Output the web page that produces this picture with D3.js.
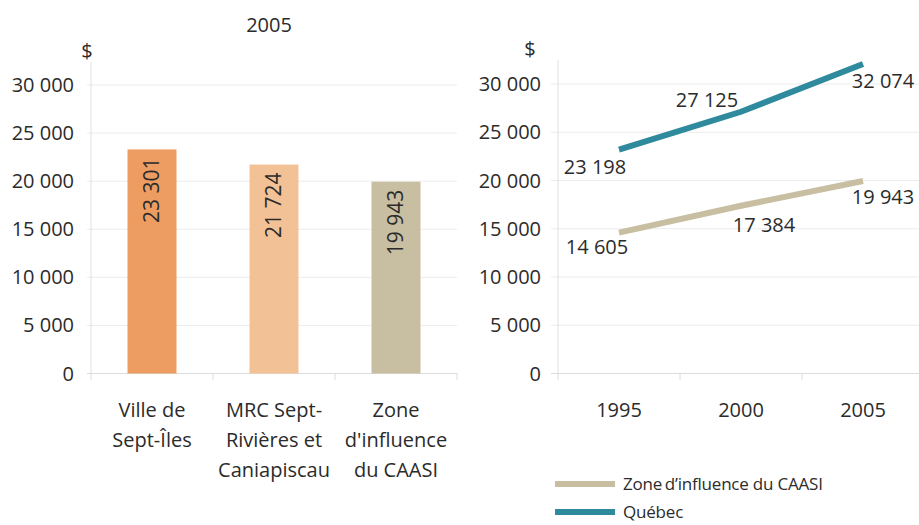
<!DOCTYPE html>
<html>
<head>
<meta charset="utf-8">
<script src="https://cdn.jsdelivr.net/npm/d3@7"></script>
<style>
  body { margin: 0; background: #fff; }
  svg text { font-family: "Open Sans", "Noto Sans", sans-serif; fill: #2b2b2b; }
</style>
</head>
<body>
<svg id="chart" width="919" height="525"></svg>
<script>
// data
const barCategories = [["Ville de", "Sept-Îles"], ["MRC Sept-", "Rivières et", "Caniapiscau"], ["Zone", "d'influence", "du CAASI"]];
const barValues = [23301, 21724, 19943];
const barColors = ["#ee9d62", "#f3c196", "#c8bea2"];

const years = ["1995", "2000", "2005"];
const zoneValues = [14605, 17384, 19943];
const quebecValues = [23198, 27125, 32074];
const seriesNames = ["Zone\u2009d\u2019influence du CAASI", "Québec"];
const seriesColors = ["#c8bea2", "#2e8a9c"];

const yTicks = [0, 5000, 10000, 15000, 20000, 25000, 30000];

const fmt = v => d3.format(",")(v).replace(/,/g, " ");

const svg = d3.select("#chart");

// ---- left: bars 2005 ----
const y1 = d3.scaleLinear().domain([0, 30000]).range([373.5, 85]);

const gl = svg.append("g");
gl.selectAll(".grid").data(yTicks.slice(1)).enter().append("line")
  .attr("x1", 87).attr("x2", 457)
  .attr("y1", d => y1(d)).attr("y2", d => y1(d))
  .attr("stroke", "#ececec").attr("stroke-width", 1);
gl.append("line").attr("x1", 91).attr("x2", 91).attr("y1", 62).attr("y2", 373.5)
  .attr("stroke", "#e0e0e0");
gl.append("line").attr("x1", 87).attr("x2", 457).attr("y1", 373.5).attr("y2", 373.5)
  .attr("stroke", "#dcdcdc");
[91, 213, 335, 457].forEach(x => {
  gl.append("line").attr("x1", x).attr("x2", x).attr("y1", 373.5).attr("y2", 380).attr("stroke", "#dcdcdc");
});
gl.selectAll(".ytick").data(yTicks).enter().append("text")
  .attr("x", 74).attr("y", d => y1(d)).attr("dy", "0.35em")
  .attr("text-anchor", "end").style("font-size", "20px").text(fmt);
gl.append("text").attr("x", 87).attr("y", 51).attr("dy", "0.35em")
  .attr("text-anchor", "middle").style("font-size", "20px").text("$");
gl.append("text").attr("x", 269).attr("y", 25).attr("dy", "0.35em")
  .attr("text-anchor", "middle").style("font-size", "20px").text("2005");

// bars at band centre so bar width stays ~49px
const bandW = 122, barW = 49;
const x1 = d3.scaleLinear().domain([0, 1]).range([91, 91 + bandW]);
gl.selectAll(".bar").data(barValues).enter().append("rect")
  .attr("x", (d, i) => x1(i) + (bandW - barW) / 2)
  .attr("width", barW)
  .attr("y", d => y1(d))
  .attr("height", d => y1(0) - y1(d))
  .attr("fill", (d, i) => barColors[i]);
gl.selectAll(".blabel").data(barValues).enter().append("text")
  .attr("transform", (d, i) => `translate(${x1(i) + bandW / 2 + 7},${y1(d) + 8}) rotate(-90)`)
  .attr("text-anchor", "end").style("font-size", "21px").text(fmt);
barCategories.forEach((lines, i) => {
  const t = gl.append("text").attr("text-anchor", "middle").style("font-size", "20px");
  lines.forEach((l, j) => {
    t.append("tspan").attr("x", x1(i) + bandW / 2).attr("y", 417 + j * 30).text(l);
  });
});

// ---- right: lines ----
const y2 = d3.scaleLinear().domain([0, 30000]).range([373.5, 84]);
const x2 = d3.scalePoint().domain(years).range([619, 863]);

const gr = svg.append("g");
gr.selectAll(".grid").data(yTicks.slice(1)).enter().append("line")
  .attr("x1", 551).attr("x2", 919)
  .attr("y1", d => y2(d)).attr("y2", d => y2(d))
  .attr("stroke", "#ececec");
gr.append("line").attr("x1", 558).attr("x2", 558).attr("y1", 60).attr("y2", 373.5).attr("stroke", "#e0e0e0");
gr.append("line").attr("x1", 551).attr("x2", 919).attr("y1", 373.5).attr("y2", 373.5).attr("stroke", "#dcdcdc");
[558, 680, 802].forEach(x => {
  gr.append("line").attr("x1", x).attr("x2", x).attr("y1", 373.5).attr("y2", 380).attr("stroke", "#dcdcdc");
});
gr.selectAll(".ytick").data(yTicks).enter().append("text")
  .attr("x", 541).attr("y", d => y2(d)).attr("dy", "0.35em")
  .attr("text-anchor", "end").style("font-size", "20px").text(fmt);
gr.append("text").attr("x", 530).attr("y", 49).attr("dy", "0.35em")
  .attr("text-anchor", "middle").style("font-size", "20px").text("$");
gr.selectAll(".xtick").data(years).enter().append("text")
  .attr("x", d => x2(d)).attr("y", 417)
  .attr("text-anchor", "middle").style("font-size", "20px").text(d => d);

const line = d3.line().x((d, i) => x2(years[i])).y(d => y2(d));
[zoneValues, quebecValues].forEach((vals, s) => {
  gr.append("path").datum(vals).attr("d", line)
    .attr("fill", "none").attr("stroke", seriesColors[s]).attr("stroke-width", 6);
});

// label offsets (dx, dy) from each point, as placed in the original
const labelOffsets = [
  [[-22, 21], [23, 26], [20, 23]],
  [[-24, 24], [-34, -5], [20, 24]]
];
[zoneValues, quebecValues].forEach((vals, s) => {
  gr.selectAll(".pl" + s).data(vals).enter().append("text")
    .attr("x", (d, i) => x2(years[i]) + labelOffsets[s][i][0])
    .attr("y", (d, i) => y2(d) + labelOffsets[s][i][1])
    .attr("text-anchor", "middle").style("font-size", "20px").text(fmt);
});

// legend
const lg = svg.append("g");
seriesNames.forEach((name, i) => {
  const yy = 484 + i * 28;
  lg.append("line").attr("x1", 555).attr("x2", 615).attr("y1", yy).attr("y2", yy)
    .attr("stroke", seriesColors[i]).attr("stroke-width", 6);
  lg.append("text").attr("x", 623).attr("y", yy).attr("dy", "0.35em")
    .style("font-size", "17px").style("letter-spacing", "-0.2px").text(name);
});
</script>
</body>
</html>
